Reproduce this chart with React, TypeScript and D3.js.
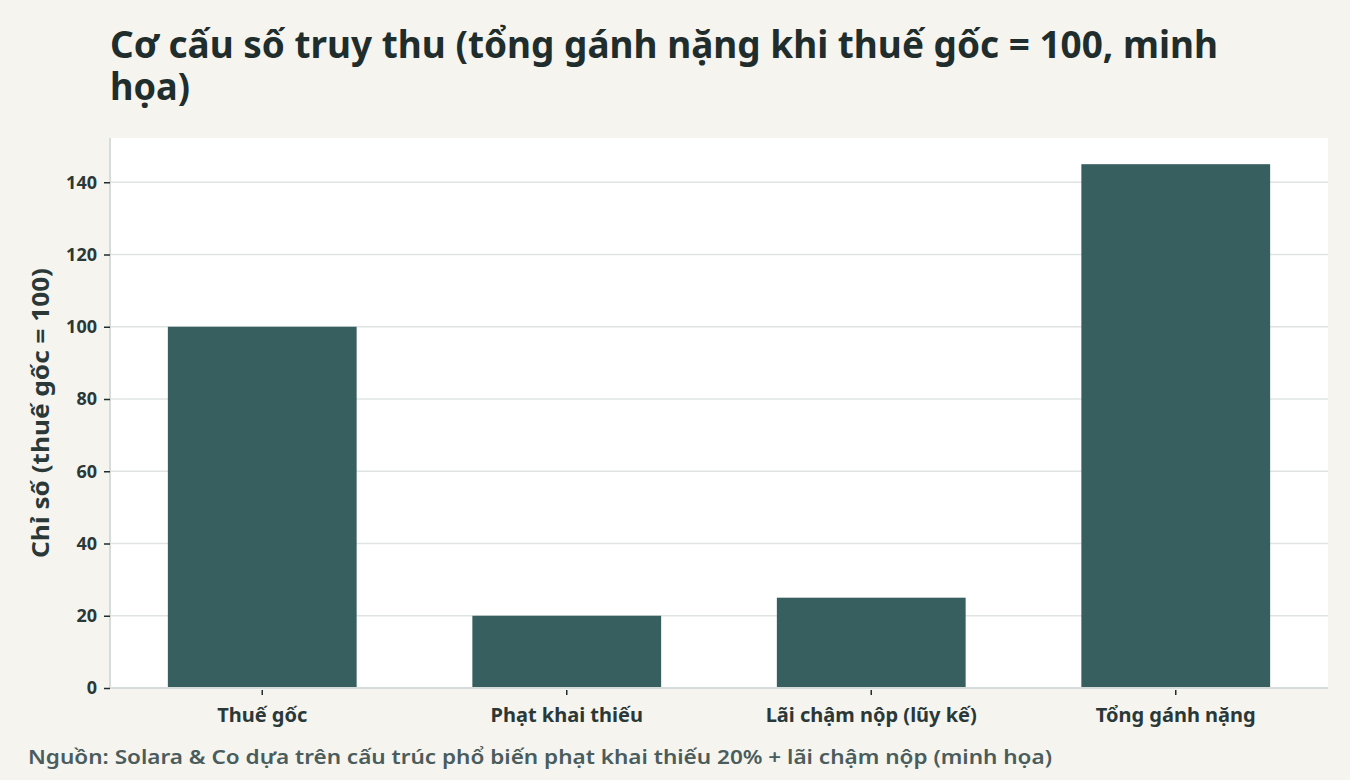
import { useEffect, useRef } from "react";
import * as d3 from "d3";

const categories = ["Thuế gốc", "Phạt khai thiếu", "Lãi chậm nộp (lũy kế)", "Tổng gánh nặng"];
const values = [100, 20, 25, 145];
const yTicks = [0, 20, 40, 60, 80, 100, 120, 140];

const titleLines = ["Cơ cấu số truy thu (tổng gánh nặng khi thuế gốc = 100, minh", "họa)"];
const yLabel = "Chỉ số (thuế gốc = 100)";
const source = "Nguồn: Solara & Co dựa trên cấu trúc phổ biến phạt khai thiếu 20% + lãi chậm nộp (minh họa)";

const width = 1350;
const height = 780;
const margin = { top: 138, right: 22, bottom: 92, left: 110 };
const font = "'Noto Sans', 'DejaVu Sans', sans-serif";
const ink = "#1f2d2d";

const App = () => {
  const svgRef = useRef<SVGSVGElement>(null);

  useEffect(() => {
    document.body.style.margin = "0";
    if (!svgRef.current) return;
    const svg = d3.select(svgRef.current);
    svg.selectAll("*").remove();

    const x = d3
      .scaleBand<string>()
      .domain(categories)
      .range([margin.left, width - margin.right])
      .paddingInner(0.38)
      .paddingOuter(0.19);
    const y = d3
      .scaleLinear()
      .domain([0, 152.25])
      .range([height - margin.bottom, margin.top]);

    svg.append("rect").attr("width", width).attr("height", height).attr("fill", "#f5f4ef");
    svg
      .append("rect")
      .attr("x", margin.left)
      .attr("y", margin.top)
      .attr("width", width - margin.left - margin.right)
      .attr("height", height - margin.top - margin.bottom)
      .attr("fill", "#ffffff");

    // gridlines
    svg
      .append("g")
      .selectAll("line")
      .data(yTicks)
      .join("line")
      .attr("x1", margin.left)
      .attr("x2", width - margin.right)
      .attr("y1", (d) => y(d))
      .attr("y2", (d) => y(d))
      .attr("stroke", "#dfe4e3")
      .attr("stroke-width", 1.5);

    // bars
    svg
      .append("g")
      .selectAll("rect")
      .data(values)
      .join("rect")
      .attr("x", (_, i) => x(categories[i])!)
      .attr("y", (d) => y(d))
      .attr("width", x.bandwidth())
      .attr("height", (d) => y(0) - y(d))
      .attr("fill", "#385f5f");

    // y axis
    const yAxis = svg
      .append("g")
      .attr("transform", `translate(${margin.left},0)`)
      .call(d3.axisLeft(y).tickValues(yTicks).tickSize(6).tickPadding(7));
    yAxis.select(".domain").attr("stroke", "#d6dcdb").attr("stroke-width", 2).attr("d", `M0,${margin.top}V${height - margin.bottom}`);
    yAxis.selectAll(".tick line").attr("stroke", ink).attr("stroke-width", 1.5);
    yAxis
      .selectAll(".tick text")
      .attr("fill", "#2a3838")
      .attr("font-family", font)
      .attr("font-weight", 700)
      .attr("font-size", 18);

    // x axis
    const xAxis = svg
      .append("g")
      .attr("transform", `translate(0,${height - margin.bottom})`)
      .call(d3.axisBottom(x).tickSize(7).tickPadding(13));
    xAxis.select(".domain").attr("stroke", "#d6dcdb").attr("stroke-width", 2).attr("d", `M${margin.left},0H${width - margin.right}`);
    xAxis.selectAll(".tick line").attr("stroke", ink).attr("stroke-width", 1.5).attr("y1", 2);
    xAxis
      .selectAll(".tick text")
      .attr("fill", "#2a3838")
      .attr("font-family", font)
      .attr("font-weight", 700)
      .attr("font-size", 20);

    // y label
    svg
      .append("text")
      .attr("transform", `translate(49,${(margin.top + height - margin.bottom) / 2}) rotate(-90)`)
      .attr("text-anchor", "middle")
      .attr("fill", "#2a3838")
      .attr("font-family", font)
      .attr("font-weight", 700)
      .attr("font-size", 24)
      .attr("textLength", 290)
      .attr("lengthAdjust", "spacingAndGlyphs")
      .text(yLabel);

    // title
    const title = svg
      .append("text")
      .attr("fill", ink)
      .attr("font-family", font)
      .attr("font-weight", 700)
      .attr("font-size", 37);
    title
      .append("tspan")
      .attr("x", margin.left)
      .attr("y", 58)
      .attr("textLength", 1108)
      .attr("lengthAdjust", "spacingAndGlyphs")
      .text(titleLines[0]);
    title
      .append("tspan")
      .attr("x", margin.left)
      .attr("y", 100)
      .attr("textLength", 80)
      .attr("lengthAdjust", "spacingAndGlyphs")
      .text(titleLines[1]);

    // source
    svg
      .append("text")
      .attr("x", 28)
      .attr("y", 764)
      .attr("fill", "#4a5c5c")
      .attr("font-family", font)
      .attr("font-weight", 600)
      .attr("font-size", 19)
      .attr("textLength", 1024)
      .attr("lengthAdjust", "spacingAndGlyphs")
      .text(source);
  }, []);

  return <svg ref={svgRef} width={width} height={height} style={{ display: "block" }}></svg>;
};

export default App;
